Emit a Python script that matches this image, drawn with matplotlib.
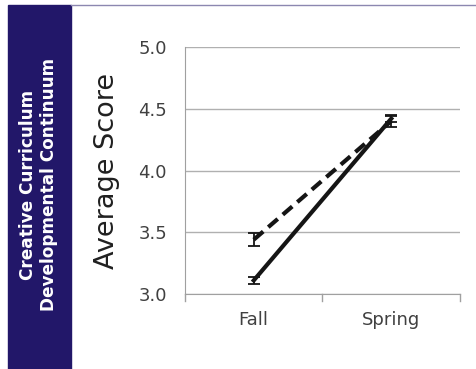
import matplotlib.pyplot as plt
from matplotlib.patches import Rectangle

# average scores by season, two groups
seasons = ["Fall", "Spring"]
group_a = [3.11, 4.42]      # solid line
group_a_err = [0.025, 0.03]
group_b = [3.44, 4.40]      # dashed line
group_b_err = [0.05, 0.045]

band_color = "#221769"
fig = plt.figure(figsize=(4.77, 3.69), dpi=100)

# side band with the measure name
fig.patches.append(Rectangle((8 / 477, 0), 63 / 477, 364 / 369,
                             transform=fig.transFigure, color=band_color, zorder=0))
fig.add_artist(plt.Line2D([71 / 477, 1], [364 / 369, 364 / 369],
                          transform=fig.transFigure, color="#8c87b0", lw=1))
fig.text(38.5 / 477, 0.5, "Creative Curriculum\nDevelopmental Continuum",
         rotation=90, ha="center", va="center", color="white",
         fontsize=12.2, fontweight="bold", linespacing=1.2)

ax = fig.add_axes([185 / 477, 75 / 369, 275 / 477, 247 / 369])
x = [0, 1]
ax.errorbar(x, group_a, yerr=group_a_err, color="#151515", lw=3.0,
            capsize=4, elinewidth=1.3, capthick=1.3, zorder=3)
ax.errorbar(x, group_b, yerr=group_b_err, color="#151515", lw=3.0, ls=(0, (3, 1.6)),
            capsize=4, elinewidth=1.3, capthick=1.3, zorder=3)

ax.set_xlim(-0.5, 1.5)
ax.set_ylim(3.0, 5.0)
ax.set_yticks([3.0, 3.5, 4.0, 4.5, 5.0])
ax.set_yticklabels(["3.0", "3.5", "4.0", "4.5", "5.0"])
ax.set_xticks(x)
ax.set_xticklabels(seasons)
ax.grid(axis="y", color="#b0b0b0", lw=1)
ax.set_axisbelow(True)
for s in ["top", "right"]:
    ax.spines[s].set_visible(False)
ax.spines["left"].set_color("#a0a0a0")
ax.spines["bottom"].set_color("#a0a0a0")
ax.tick_params(axis="y", length=0, pad=13, labelsize=13, labelcolor="#404040")
ax.tick_params(axis="x", length=0, pad=12, labelsize=13, labelcolor="#404040")
# category separators below the axis
for xs in [-0.5, 0.5, 1.5]:
    ax.plot([xs, xs], [3.0, 2.94], color="#a0a0a0", lw=1, clip_on=False)
ax.set_ylabel("Average Score", fontsize=19.5, color="#202020", labelpad=13)

fig.savefig("out.png", dpi=100)
